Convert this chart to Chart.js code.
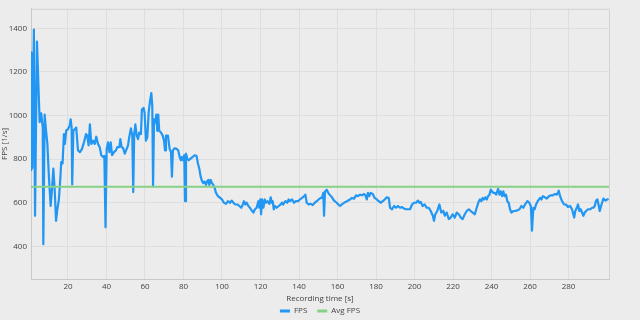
<!DOCTYPE html>
<html>
<head>
<meta charset="utf-8">
<script src="https://cdn.jsdelivr.net/npm/chart.js@4/dist/chart.umd.min.js"></script>
<style>
html,body{margin:0;padding:0;background:#ececec;}
#wrap{width:640px;height:320px;position:relative;}
</style>
</head>
<body>
<div id="wrap"><canvas id="c"></canvas></div>
<script>
const times = [0.8,1.0,1.5,2.3,2.9,3.9,4.8,5.3,6.1,6.9,7.2,7.9,8.6,9.3,10.1,11.0,11.7,12.4,13.1,13.8,14.5,15.3,16.0,16.5,17.2,17.9,18.4,19.1,20.0,20.9,21.4,21.9,22.2,22.8,23.5,24.3,25.2,26.2,27.3,28.3,29.4,30.0,30.7,31.4,32.1,33.0,33.9,34.7,35.6,36.5,37.3,38.2,38.9,39.5,40.1,40.8,41.5,42.2,42.9,43.9,44.9,45.6,46.7,47.2,47.9,48.7,49.5,50.5,51.2,51.8,52.7,53.4,53.9,54.4,55.0,55.7,56.4,57.0,57.9,58.4,59.3,59.8,60.5,61.2,61.9,62.6,63.3,63.8,64.2,64.7,65.4,65.9,66.4,66.9,67.4,68.3,69.2,69.9,70.4,70.9,71.9,72.8,73.5,74.0,74.5,75.4,76.5,77.3,78.0,78.7,79.2,79.9,80.4,80.8,81.3,82.0,82.7,83.7,84.8,85.8,86.8,87.5,88.2,88.9,89.6,90.3,91.0,91.7,92.4,92.9,93.4,94.1,94.8,95.5,96.2,96.9,97.9,99.0,100.0,101.0,102.1,103.1,104.2,105.0,105.9,106.9,108.0,109.0,110.0,110.8,111.4,112.1,112.8,113.7,114.5,115.4,116.3,117.1,118.0,118.9,119.4,119.9,120.3,120.8,121.5,122.2,122.9,123.7,124.6,125.3,125.8,126.3,126.9,127.5,128.4,129.5,130.5,131.2,131.8,132.9,133.9,134.6,135.3,136.4,137.4,138.4,139.5,140.5,141.6,142.6,143.3,144.0,145.0,146.1,147.1,148.2,149.2,150.2,151.3,151.9,152.6,153.0,153.5,154.4,155.2,156.1,157.1,158.2,159.6,160.4,161.3,162.3,163.4,164.4,165.5,166.5,167.5,168.6,169.6,170.6,171.7,172.7,173.8,174.5,175.2,175.8,176.5,177.2,178.3,179.3,180.4,181.4,182.4,183.5,184.5,185.6,186.6,187.3,188.3,189.4,190.4,191.4,192.5,193.5,194.5,195.6,196.6,197.7,198.7,199.7,200.8,201.8,202.5,203.2,204.2,205.3,206.3,207.4,208.4,209.5,210.1,210.8,211.8,212.9,213.9,215.0,215.7,216.7,217.8,218.8,219.8,220.9,221.9,223.0,224.0,225.0,226.1,227.1,228.2,229.2,230.2,231.3,232.3,233.4,234.0,234.7,235.4,236.1,236.8,237.5,238.2,238.9,239.6,240.3,241.0,241.7,242.4,243.4,244.1,244.8,245.5,246.1,246.8,247.5,248.2,248.9,249.6,250.3,251.3,252.4,253.4,254.5,255.5,256.5,257.6,258.6,259.6,260.4,261.0,261.7,262.4,263.1,264.2,265.2,265.9,266.6,267.7,268.7,269.8,270.8,271.8,272.8,273.9,274.9,275.6,276.6,277.7,278.7,279.7,280.8,281.8,282.9,283.5,284.3,284.9,285.6,286.3,287.0,287.7,288.4,289.1,290.1,291.2,292.2,292.9,293.6,294.3,295.0,295.7,296.2,297.1,298.1,299.1,300.1,300.8];
const fps = [750,1290,760,1395,540,1340,1100,970,1010,945,410,1005,932,870,720,585,661,757,661,517,571,616,706,787,780,915,870,932,937,954,983,945,684,932,937,945,841,832,847,877,915,908,863,960,870,885,870,903,870,855,818,810,815,487,847,877,832,877,818,832,840,855,855,892,855,850,825,847,863,900,941,908,649,915,960,908,892,922,915,1028,1035,1013,885,900,1013,1065,1103,1043,675,983,968,1005,930,1005,930,922,908,885,840,908,908,847,832,720,840,850,847,840,810,795,810,795,818,607,825,802,795,802,810,818,814,780,757,720,700,690,697,682,700,705,682,705,690,682,667,645,630,622,615,600,595,607,600,610,600,592,592,585,577,592,607,592,600,585,577,565,555,570,577,607,577,615,547,615,577,615,600,607,595,625,600,607,570,585,577,585,592,600,592,607,600,615,607,615,600,607,607,615,622,630,637,600,592,595,589,600,607,615,622,622,645,540,652,660,645,635,625,610,600,592,585,592,600,604,610,615,622,619,634,630,637,634,640,634,615,645,630,645,640,622,615,607,600,607,615,625,622,577,570,585,577,585,577,580,574,570,570,570,592,600,600,610,600,604,585,592,577,577,562,540,517,547,562,592,555,562,540,555,525,532,547,532,555,547,532,525,547,562,570,562,555,547,577,607,615,607,622,615,625,615,630,637,660,652,645,645,637,664,637,652,630,652,630,637,607,600,570,555,562,562,565,570,585,577,595,607,600,585,472,577,570,592,610,622,615,630,625,619,630,634,634,640,637,655,630,607,592,592,580,585,570,532,562,577,592,562,570,555,540,555,562,570,570,577,577,585,610,615,585,562,592,619,610,615,617];
const avgFps = 673;
const xRange = [0.8, 301];
const yRange = [250, 1490];
const xTicks = [20,40,60,80,100,120,140,160,180,200,220,240,260,280];
const yTicks = [400,600,800,1000,1200,1400];
const seriesNames = ['FPS', 'Avg FPS'];

const fpsPoints = times.map((t, i) => ({x: t, y: fps[i]}));
const avgPoints = [{x: xRange[0], y: avgFps}, {x: xRange[1], y: avgFps}];

const borderPlugin = {
  id: 'plotBorder',
  afterLayout(chart) {
    if (chart.legend) { chart.legend.left = 0; chart.legend.right = chart.width; }
  },
  afterDraw(chart) {
    const {ctx, chartArea: a} = chart;
    ctx.save();
    ctx.strokeStyle = '#d2d2d2';
    ctx.lineWidth = 1;
    ctx.beginPath();
    ctx.moveTo(a.left, a.top + 0.5);
    ctx.lineTo(a.right + 0.5, a.top + 0.5);
    ctx.lineTo(a.right + 0.5, a.bottom);
    ctx.stroke();
    ctx.restore();
  }
};

const font = {family: "'Open Sans', 'Noto Sans', sans-serif", size: 8};
const plain = v => String(v);

new Chart(document.getElementById('c'), {
  type: 'line',
  data: {
    datasets: [
      {label: seriesNames[1], data: avgPoints, borderColor: '#86d186', backgroundColor: '#86d186', borderWidth: 2, pointRadius: 0, tension: 0},
      {label: seriesNames[0], data: fpsPoints, borderColor: '#2196f3', backgroundColor: '#2196f3', borderWidth: 2.2, pointRadius: 0, tension: 0, borderJoinStyle: 'round'}
    ]
  },
  options: {
    responsive: true,
    maintainAspectRatio: false,
    devicePixelRatio: 1,
    animation: false,
    layout: {padding: {top: 4, right: 31, bottom: -5, left: 0}},
    plugins: {
      legend: {
        position: 'bottom',
        reverse: true,
        labels: {
          boxWidth: 10, boxHeight: 3, padding: 10, color: '#444', font: font,
          generateLabels: chart => Chart.defaults.plugins.legend.labels.generateLabels(chart).map(it => Object.assign(it, {lineWidth: 0, strokeStyle: 'rgba(0,0,0,0)'}))
        }
      },
      tooltip: {enabled: false}
    },
    scales: {
      x: {
        type: 'linear',
        min: xRange[0], max: xRange[1],
        afterBuildTicks: s => { s.ticks = xTicks.map(v => ({value: v})); },
        afterFit: s => { s.height = 18; },
        grid: {color: '#dedede', drawTicks: false},
        border: {color: '#c8c8c8'},
        ticks: {color: '#444', font: font, padding: 3, maxRotation: 0, callback: plain},
        title: {display: true, text: 'Recording time [s]', color: '#444', font: font, padding: {top: 0, bottom: -6.8}}
      },
      y: {
        type: 'linear',
        min: yRange[0], max: yRange[1],
        afterBuildTicks: s => { s.ticks = yTicks.map(v => ({value: v})); },
        afterFit: s => { s.width = 31; },
        grid: {color: '#dedede', drawTicks: false},
        border: {color: '#c8c8c8'},
        ticks: {color: '#444', font: font, padding: 4, callback: plain},
        title: {display: true, text: 'FPS [1/s]', color: '#444', font: font, padding: {top: 0, bottom: 0}}
      }
    }
  },
  plugins: [borderPlugin]
});
</script>
</body>
</html>
